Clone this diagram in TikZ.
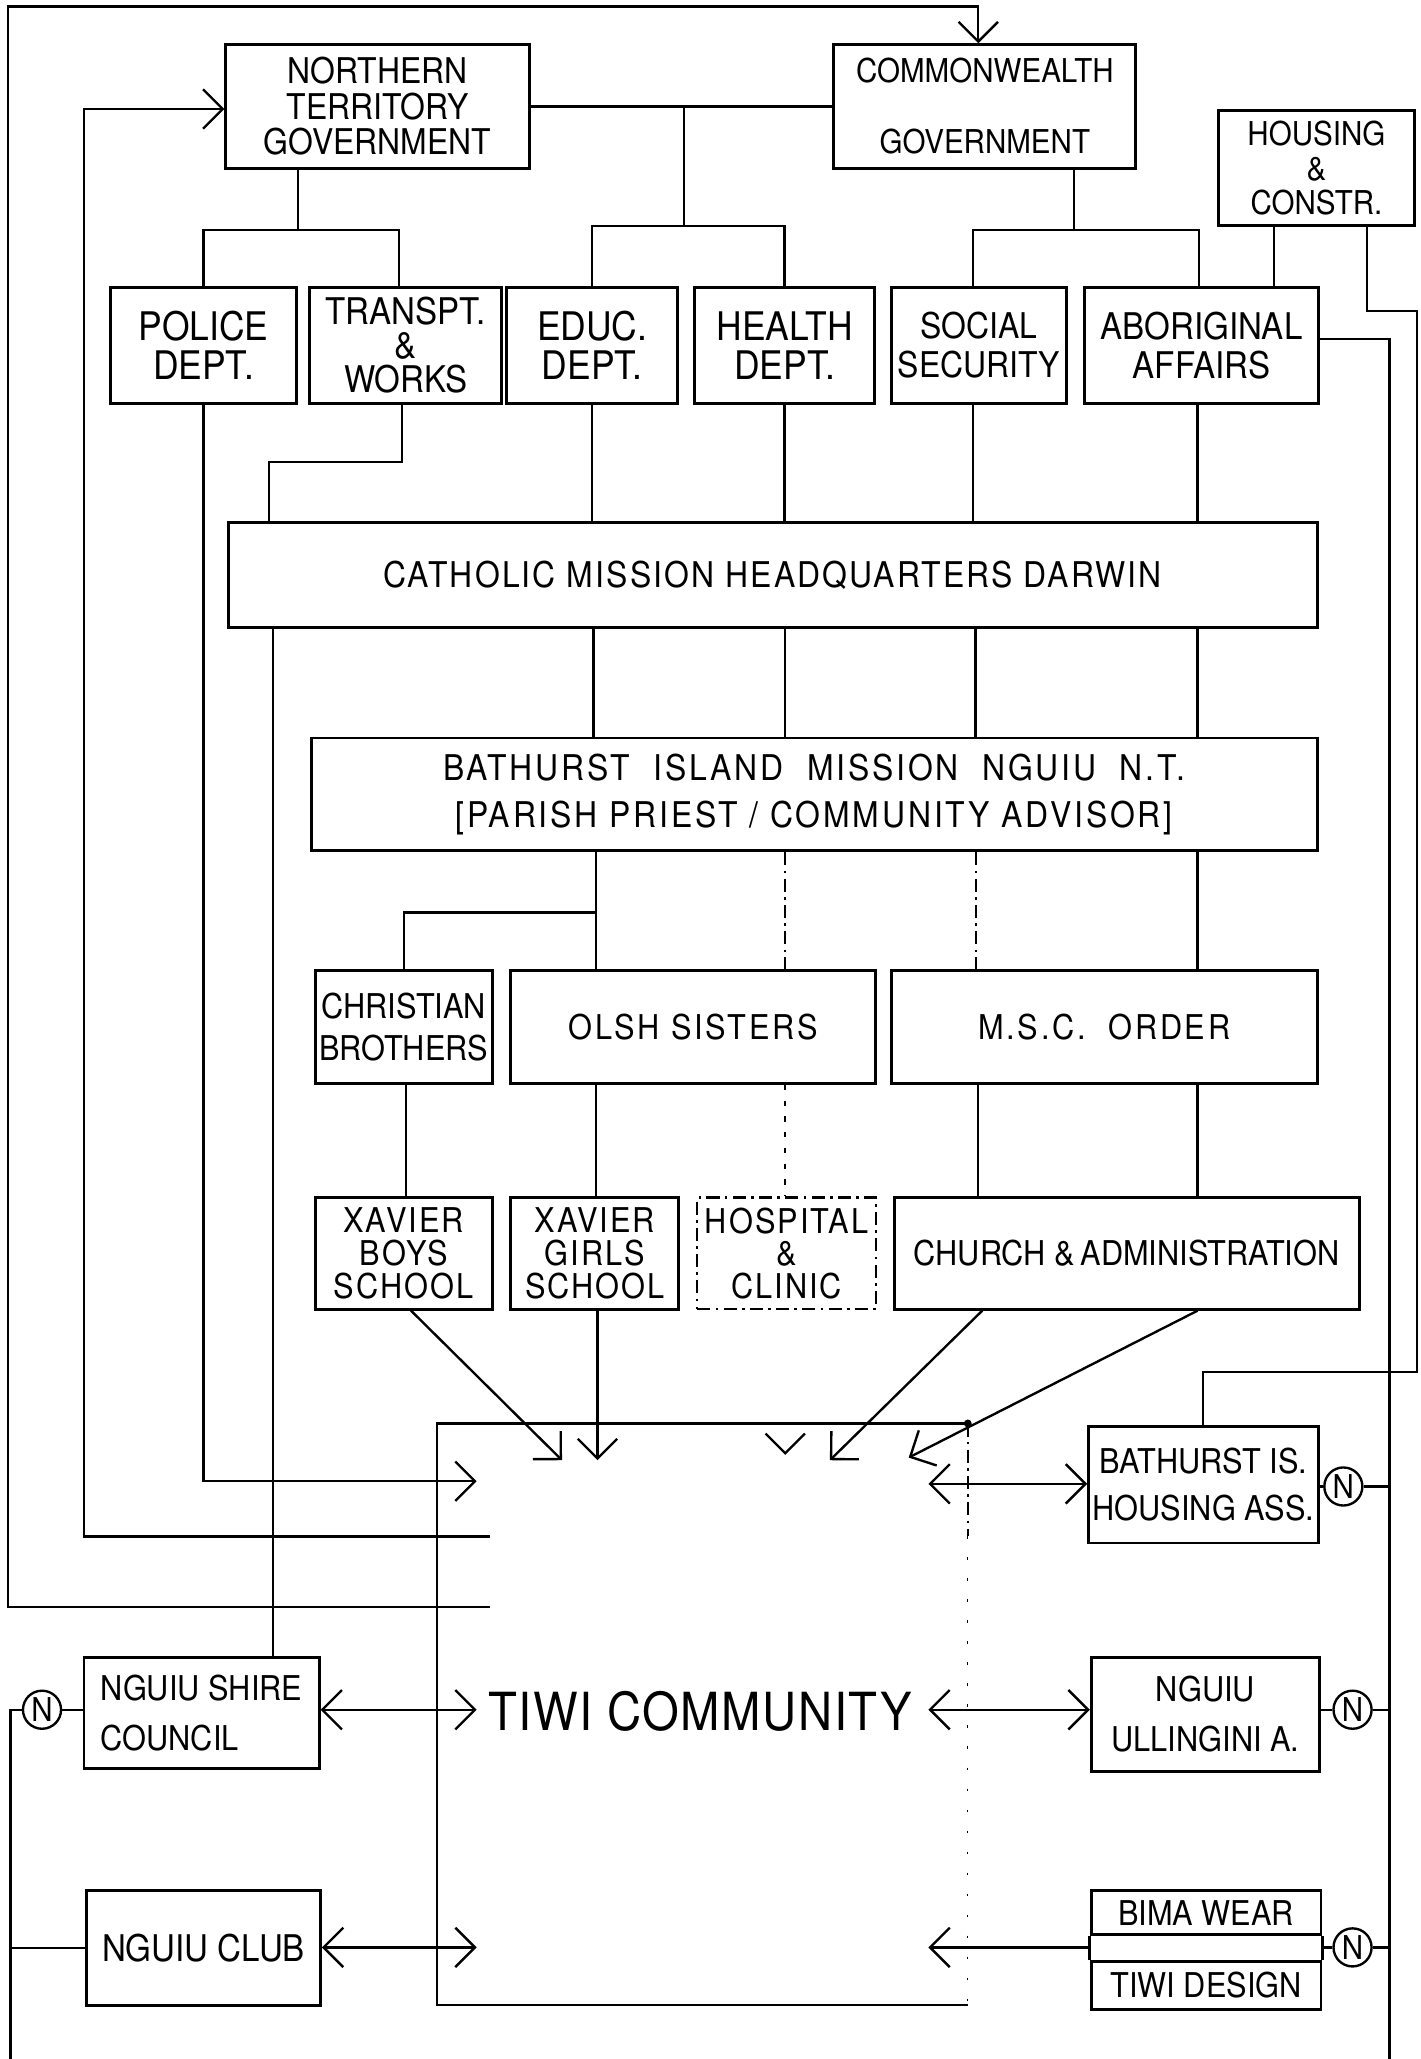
\documentclass[tikz,border=0pt]{standalone}
\usepackage{fontspec}
\setmainfont[FakeStretch=0.9]{TeX Gyre Heros}
\usetikzlibrary{arrows.meta}
\newcommand\fsz[2]{\fontsize{#1}{#2}\selectfont}
\newcommand\spc[1]{\addfontfeatures{LetterSpace=#1}}
\begin{document}
\begin{tikzpicture}[x=1pt,y=-1pt,
  box/.style={draw, line width=2.2pt, inner sep=0pt, align=center},
  conn/.style={line width=1.8pt},
  faint/.style={line width=1.4pt, dash pattern=on 10pt off 4pt on 2pt off 4pt},
  >={Straight Barb[length=15pt,width=30pt]},
  ncirc/.style={draw, circle, line width=1.8pt, minimum size=29pt, inner sep=0pt, font=\fsz{25}{25}}]
\useasboundingbox (0,0) rectangle (1082,1568);

% ---- top level
\node[box, minimum width=231pt, minimum height=94pt, font=\fsz{27}{27}] (nt) at (287.5,81) {\raisebox{-4pt}{\parbox{200pt}{\centering NORTHERN\\TERRITORY\\GOVERNMENT}}};
\node[box, minimum width=230pt, minimum height=94pt, font=\fsz{25}{54}] (cw) at (750,81) {\raisebox{-4pt}{\parbox{210pt}{\centering COMMONWEALTH\\GOVERNMENT}}};
\node[box, minimum width=149pt, minimum height=88pt, font=\fsz{25}{26}] (hc) at (1002.5,128) {HOUSING\\\&\\CONSTR.};

% ---- departments
\node[box, minimum width=142pt, minimum height=88pt, font=\fsz{30}{30}] (pol) at (155,263) {POLICE\\DEPT.};
\node[box, minimum width=146pt, minimum height=88pt, font=\fsz{28}{26}] (tw) at (309,263) {TRANSPT.\\\&\\WORKS};
\node[box, minimum width=130pt, minimum height=88pt, font=\fsz{30}{30}] (edu) at (451,263) {EDUC.\\DEPT.};
\node[box, minimum width=137pt, minimum height=88pt, font=\fsz{30}{30}] (hea) at (597.5,263) {HEALTH\\DEPT.};
\node[box, minimum width=133pt, minimum height=88pt, font=\fsz{27}{30}] (soc) at (745.5,263) {SOCIAL\\SECURITY};
\node[box, minimum width=178pt, minimum height=88pt, font=\fsz{28}{30}] (abo) at (915,263) {ABORIGINAL\\AFFAIRS};

% ---- mission
\node[box, minimum width=829pt, minimum height=80pt, font=\fsz{27}{27}\spc{6}] (cat) at (588.5,438) {CATHOLIC MISSION HEADQUARTERS DARWIN};
\node[box, minimum width=766pt, minimum height=86pt, font=\fsz{27}{36}\spc{8}] (bim) at (620,605) {BATHURST\ \ ISLAND\ \ MISSION\ \ NGUIU\ \ N.T.\\{[}PARISH PRIEST / COMMUNITY ADVISOR{]}};

\node[box, minimum width=135pt, minimum height=86pt, font=\fsz{26}{32}] (cb) at (307.5,782) {CHRISTIAN\\BROTHERS};
\node[box, minimum width=278pt, minimum height=86pt, font=\fsz{26}{26}\spc{8}] (olsh) at (528,782) {OLSH SISTERS};
\node[box, minimum width=324pt, minimum height=86pt, font=\fsz{26}{26}\spc{8}] (msc) at (841,782) {M.S.C.\ \ ORDER};

\node[box, minimum width=135pt, minimum height=85pt, font=\fsz{26}{25}\spc{6}] (xb) at (307.5,954.5) {XAVIER\\BOYS\\SCHOOL};
\node[box, minimum width=128pt, minimum height=85pt, font=\fsz{26}{25}\spc{6}] (xg) at (453,954.5) {XAVIER\\GIRLS\\SCHOOL};
\node[box, faint, line width=1.8pt, minimum width=136pt, minimum height=85pt, font=\fsz{26}{25}\spc{6}] (hos) at (599,954.5) {HOSPITAL\\\&\\CLINIC};
\node[box, minimum width=354pt, minimum height=85pt, font=\fsz{26}{26}] (ch) at (858,954.5) {CHURCH \&\,ADMINISTRATION};

% ---- community level
\node[box, minimum width=175pt, minimum height=89pt, font=\fsz{26}{36}] (bh) at (916.5,1130.5) {BATHURST IS.\\HOUSING ASS.};
\node[box, minimum width=174pt, minimum height=87pt, font=\fsz{26}{38}] (ul) at (918,1305.5) {NGUIU\\ULLINGINI A.};
\node[box, minimum width=175pt, minimum height=33pt, font=\fsz{26}{26}] (bwear) at (918.5,1456.5) {BIMA WEAR};
\node[box, minimum width=175pt, minimum height=36pt, font=\fsz{26}{26}] (tdes) at (918.5,1512) {TIWI DESIGN};
\draw[line width=2.2pt] (bwear.south west) -- (tdes.north west);
\draw[line width=2.2pt] (bwear.south east) -- (tdes.north east);
\node[box, minimum width=179pt, minimum height=85pt, font=\fsz{26}{38}, align=left] (sh) at (153.5,1304.5) {NGUIU SHIRE\\COUNCIL};
\node[box, minimum width=178pt, minimum height=87pt, font=\fsz{28}{28}] (club) at (155,1483.5) {NGUIU CLUB};

% Tiwi community frame
\coordinate (tTL) at (333,1084);
\coordinate (tTR) at (737,1084);
\coordinate (tBL) at (333,1527);
\coordinate (tBR) at (737,1527);
\draw[line width=1.6pt] (tTR) -- (tTL) -- (tBL) -- (tBR);
\draw[faint] (tTR) -- (737,1170);
\draw[line width=1pt, dash pattern=on 2pt off 14pt] (737,1170) -- (tBR);
\node[font=\fsz{40}{40}\spc{3}] (tiwi) at (533,1303) {TIWI COMMUNITY};

% N circles
\node[ncirc] (nS) at (32,1302) {N};
\node[ncirc] (nB) at (1023,1132) {N};
\node[ncirc] (nU) at (1030,1302) {N};
\node[ncirc] (nW) at (1030,1483) {N};

% ---- outer feedback loops
\coordinate (eA) at (373,1224);
\coordinate (eB) at (373,1170);
\coordinate (aP) at (363,1128);
\draw[conn,->] (eA) -- (6,1224) -- (6,5) -- (745,5) -- (745,5 |- cw.north);
\draw[conn,->] (eB) -- (64,1170) -- (64,83) -- (nt.west |- 64,83);
\draw[conn,->] (pol.south) -- (155,1128) -- (aP);

% ---- NT tree
\draw[conn] (227,0 |- nt.south) -- (227,175);
\draw[conn] (pol.north) |- (227,175) -| (304,0 |- tw.north);
\draw[conn] (nt.east) -- (cw.west);
\draw[conn] (521,81) -- (521,172);
\draw[conn] (edu.north) |- (521,172) -| (hea.north);
% ---- Commonwealth tree
\draw[conn] (818,0 |- cw.south) -- (818,175);
\draw[conn] (741,0 |- soc.north) |- (818,175) -| (913,0 |- abo.north);
% ---- Housing
\draw[conn] (970,0 |- hc.south) -- (970,0 |- abo.north);
\draw[conn] (1041,0 |- hc.south) -- (1041,237) -- (1079,237) -- (1079,1045) -- (916,1045) -- (916,0 |- bh.north);
% ---- Aboriginal affairs to community organisations
\coordinate (eR) at (1058,1568);
\draw[conn] (abo.east |- 0,258) -- (1058,258) -- (eR);
\draw[conn] (bh.east |- nB) -- (nB.west);
\draw[conn] (nB.east) -- (1058,0 |- nB);
\draw[conn] (ul.east |- nU) -- (nU.west);
\draw[conn] (nU.east) -- (1058,0 |- nU);
\draw[conn] (bwear.south east |- nW) -- (nW.west);
\draw[conn] (nW.east) -- (1058,0 |- nW);
% ---- left N line
\coordinate (eL) at (8,1568);
\draw[conn] (sh.west |- nS) -- (nS.east);
\draw[conn] (nS.west) -- (8,1302) -- (eL);
\draw[conn] (8,0 |- club.west) -- (club.west);

% ---- Transpt -> Catholic, Catholic -> Shire
\draw[conn] (306,0 |- tw.south) -- (306,352) -- (205,352) -- (205,0 |- cat.north);
\draw[conn] (208,0 |- cat.south) -- (208,0 |- sh.north);
% ---- departments -> Catholic
\draw[conn] (edu.south) -- (451,0 |- cat.north);
\draw[conn] (hea.south) -- (597.5,0 |- cat.north);
\draw[conn] (741,0 |- soc.south) -- (741,0 |- cat.north);
\draw[conn] (912,0 |- abo.south) -- (912,0 |- cat.north);
% ---- Catholic -> Bathurst mission
\foreach \xx in {452,598,743,912} \draw[conn] (\xx,0 |- cat.south) -- (\xx,0 |- bim.north);
% ---- Bathurst mission -> orders
\draw[conn] (454,0 |- bim.south) -- (454,0 |- olsh.north);
\draw[conn] (454,695) -- (307.5,695) -- (cb.north);
\draw[faint] (598,0 |- bim.south) -- (598,0 |- olsh.north);
\draw[faint] (743,0 |- bim.south) -- (743,0 |- msc.north);
\draw[conn] (912,0 |- bim.south) -- (912,0 |- msc.north);
% ---- orders -> institutions
\draw[conn] (309,0 |- cb.south) -- (309,0 |- xb.north);
\draw[conn] (454,0 |- olsh.south) -- (454,0 |- xg.north);
\draw[line width=1.2pt, dash pattern=on 4pt off 8pt] (598,0 |- olsh.south) -- (598,0 |- hos.north);
\draw[conn] (745,0 |- msc.south) -- (745,0 |- ch.north);
\draw[conn] (912,0 |- msc.south) -- (912,0 |- ch.north);
% ---- institutions -> Tiwi community
\coordinate (t1) at (428,1112);
\coordinate (t2) at (455,1112);
\coordinate (t3) at (598,1108);
\coordinate (t4) at (632,1112);
\coordinate (t5) at (692,1110);
\draw[conn,->] (313,0 |- xb.south) -- (t1);
\draw[conn,->] (455,0 |- xg.south) -- (t2);
\draw[line width=1.8pt, dash pattern=on 0pt off 200pt, ->] (598,0 |- hos.south) -- (t3);
\draw[conn,->] (748,0 |- ch.south) -- (t4);
\draw[conn,->] (912,0 |- ch.south) -- (t5);
\fill (tTR) circle (3pt);

% ---- side links to Tiwi community
\coordinate (sL1) at (363,1302);
\coordinate (sL2) at (363,1483);
\coordinate (sR1) at (707,1130);
\coordinate (sR2) at (707,1302);
\coordinate (sR3) at (707,1483);
\draw[conn,<->] (sh.east |- sL1) -- (sL1);
\draw[conn,<->] (club.east |- sL2) -- (sL2);
\draw[conn,<->] (sR1) -- (bh.west |- sR1);
\draw[conn,<->] (sR2) -- (ul.west |- sR2);
\draw[conn,->] (bwear.south west |- sR3) -- (sR3);
\end{tikzpicture}
\end{document}
